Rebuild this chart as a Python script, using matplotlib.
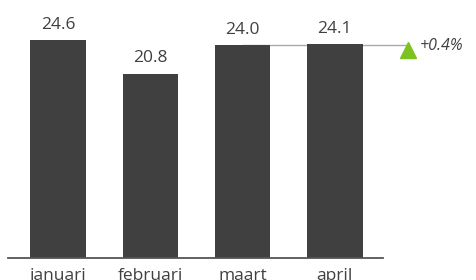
import matplotlib.pyplot as plt

months = ['januari', 'februari', 'maart', 'april']
values = [24.6, 20.8, 24.0, 24.1]
delta_label = '+0.4%'

plt.rcParams['font.family'] = ['Open Sans', 'DejaVu Sans']

fig = plt.figure(figsize=(4.77, 2.80), dpi=100)
ax = fig.add_axes([0, 0, 1, 1])
ax.set_xlim(-0.628, 4.54)
ax.set_ylim(-2.48, 29.09)
ax.axis('off')

x = range(len(months))
ax.bar(x, values, width=0.6, color='#404040', zorder=2)

for i, v in enumerate(values):
    ax.text(i, v + 0.8, '{:.1f}'.format(v), ha='center', va='bottom',
            fontsize=12.5, color='#404040')
    ax.text(i, -1.15, months[i], ha='center', va='top',
            fontsize=12.5, color='#404040')

# baseline
ax.plot([-0.542, 3.52], [0, 0], color='#555555', lw=1.3, zorder=3)

# reference line from maart to the delta marker
ax.plot([2, 3.79], [values[2], values[2]], color='#aaaaaa', lw=1.0, zorder=1)
ax.plot([3.79], [23.45], marker='^', color='#7dc21e', markersize=12,
        linestyle='none', zorder=4)
ax.text(3.92, 23.9, delta_label, ha='left', va='center',
        fontsize=11.5, style='italic', color='#404040')

fig.savefig('out.png', dpi=100)
